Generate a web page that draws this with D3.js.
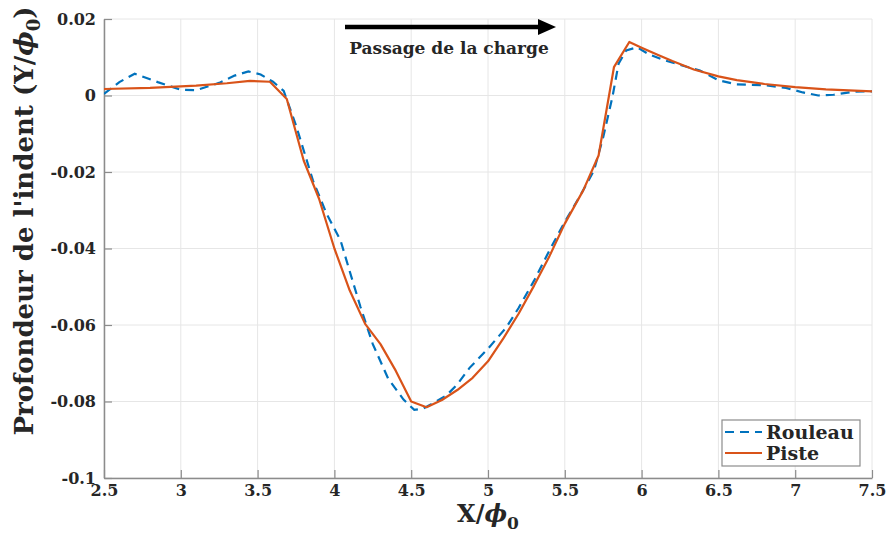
<!DOCTYPE html>
<html>
<head>
<meta charset="utf-8">
<script src="https://cdn.jsdelivr.net/npm/d3@7"></script>
<style>
  html, body { margin: 0; padding: 0; background: #fff; }
  svg { display: block; }
  text { font-family: "DejaVu Serif", serif; font-weight: bold; fill: #262626; }
</style>
</head>
<body>
<svg id="chart" width="887" height="533"></svg>
<script>
// ---- Data ----
const rouleauX = [2.5, 2.6, 2.7, 2.85, 3.0, 3.1, 3.25, 3.35, 3.44, 3.52, 3.6, 3.67, 3.75, 3.86, 3.95, 4.04, 4.1, 4.17, 4.25, 4.35, 4.45, 4.52, 4.58, 4.65, 4.73, 4.8, 4.88, 5.0, 5.12, 5.2, 5.3, 5.4, 5.5, 5.6, 5.69, 5.75, 5.81, 5.85, 5.9, 5.97, 6.05, 6.15, 6.25, 6.38, 6.5, 6.62, 6.8, 6.94, 7.05, 7.15, 7.25, 7.38, 7.5];
const rouleauY = [0.0004, 0.0035, 0.0057, 0.0035, 0.0015, 0.0014, 0.0033, 0.0052, 0.0063, 0.0055, 0.0036, 0.0012, -0.0078, -0.0222, -0.0310, -0.0379, -0.0460, -0.0553, -0.0650, -0.0740, -0.0795, -0.0822, -0.0818, -0.0803, -0.0784, -0.0755, -0.0712, -0.0662, -0.0606, -0.0555, -0.0484, -0.0405, -0.0330, -0.0262, -0.0196, -0.0109, -0.0004, 0.0083, 0.0118, 0.0126, 0.0107, 0.0092, 0.0080, 0.0065, 0.0040, 0.0029, 0.0027, 0.0020, 0.0008, 0.0000, 0.0002, 0.0010, 0.0011];

const pisteX = [2.5, 2.8, 3.1, 3.3, 3.45, 3.58, 3.69, 3.8, 3.9, 4.0, 4.1, 4.2, 4.3, 4.4, 4.5, 4.6, 4.7, 4.8, 4.9, 5.0, 5.1, 5.2, 5.3, 5.4, 5.5, 5.62, 5.72, 5.82, 5.92, 6.0, 6.1, 6.2, 6.34, 6.5, 6.62, 6.8, 7.0, 7.2, 7.5];
const pisteY = [0.0017, 0.0020, 0.0026, 0.0032, 0.0038, 0.0036, -0.0009, -0.0170, -0.0270, -0.0400, -0.0510, -0.0597, -0.0650, -0.0720, -0.0800, -0.0815, -0.0796, -0.0770, -0.0738, -0.0695, -0.0635, -0.0570, -0.0497, -0.0420, -0.0335, -0.0248, -0.0157, 0.0074, 0.0140, 0.0125, 0.0107, 0.0090, 0.0068, 0.0050, 0.0040, 0.0030, 0.0022, 0.0016, 0.0011];

const xTicks = [2.5, 3, 3.5, 4, 4.5, 5, 5.5, 6, 6.5, 7, 7.5];
const xTickLabels = ["2.5", "3", "3.5", "4", "4.5", "5", "5.5", "6", "6.5", "7", "7.5"];
const yTicks = [0.02, 0, -0.02, -0.04, -0.06, -0.08, -0.1];
const yTickLabels = ["0.02", "0", "-0.02", "-0.04", "-0.06", "-0.08", "-0.1"];

const seriesNames = ["Rouleau", "Piste"];
const seriesColors = ["#0072BD", "#D95319"];
const annotationText = "Passage de la charge";

// ---- Layout ----
const svg = d3.select("#chart");
const L = 104, R = 872, T = 19, B = 478;
const x = d3.scaleLinear().domain([2.5, 7.5]).range([L, R]);
const y = d3.scaleLinear().domain([-0.1, 0.02]).range([B, T]);

// grid
const grid = svg.append("g");
grid.selectAll("line.gx").data(xTicks).enter().append("line")
  .attr("x1", d => x(d)).attr("x2", d => x(d)).attr("y1", T).attr("y2", B)
  .attr("stroke", "#e6e6e6").attr("stroke-width", 1);
grid.selectAll("line.gy").data(yTicks).enter().append("line")
  .attr("x1", L).attr("x2", R).attr("y1", d => y(d)).attr("y2", d => y(d))
  .attr("stroke", "#e6e6e6").attr("stroke-width", 1);

// axes
const xAxis = d3.axisBottom(x).tickValues(xTicks).tickFormat((d, i) => xTickLabels[i])
  .tickSizeInner(-8).tickSizeOuter(0).tickPadding(7);
const gx = svg.append("g").attr("transform", `translate(0,${B})`).call(xAxis);
gx.select(".domain").attr("stroke", "#8c8c8c").attr("stroke-width", 1.5);
gx.selectAll(".tick line").attr("stroke", "#8c8c8c").attr("stroke-width", 1.2);
gx.selectAll(".tick text").attr("font-size", 16).attr("font-family", "DejaVu Serif").attr("font-weight", "bold").attr("fill", "#262626");

const yAxis = d3.axisLeft(y).tickValues(yTicks).tickFormat((d, i) => yTickLabels[i])
  .tickSizeInner(-8).tickSizeOuter(0).tickPadding(8);
const gy = svg.append("g").attr("transform", `translate(${L},0)`).call(yAxis);
gy.select(".domain").attr("stroke", "#8c8c8c").attr("stroke-width", 1.5);
gy.selectAll(".tick line").attr("stroke", "#8c8c8c").attr("stroke-width", 1.2);
gy.selectAll(".tick text").attr("font-size", 16).attr("font-family", "DejaVu Serif").attr("font-weight", "bold").attr("fill", "#262626");

// clip
svg.append("clipPath").attr("id", "clip").append("rect")
  .attr("x", L).attr("y", T - 2).attr("width", R - L).attr("height", B - T + 2);

const line = d3.line().x(d => x(d[0])).y(d => y(d[1]));
const rouleau = rouleauX.map((v, i) => [v, rouleauY[i]]);
const piste = pisteX.map((v, i) => [v, pisteY[i]]);

const plot = svg.append("g").attr("clip-path", "url(#clip)");
plot.append("path").datum(rouleau).attr("d", line)
  .attr("fill", "none").attr("stroke", seriesColors[0]).attr("stroke-width", 2.2)
  .attr("stroke-dasharray", "9,6");
plot.append("path").datum(piste).attr("d", line)
  .attr("fill", "none").attr("stroke", seriesColors[1]).attr("stroke-width", 2.2)
  .attr("stroke-linejoin", "round");

// annotation arrow
const arrY = 27;
svg.append("line").attr("x1", 345).attr("x2", 542).attr("y1", arrY).attr("y2", arrY)
  .attr("stroke", "#000").attr("stroke-width", 4.5);
svg.append("path").attr("d", `M538,${arrY - 8} L556,${arrY} L538,${arrY + 8} Z`).attr("fill", "#000");
svg.append("text").attr("x", 449).attr("y", 54).attr("text-anchor", "middle")
  .attr("font-size", 17).text(annotationText);

// axis labels
const ylab = svg.append("text")
  .attr("transform", "translate(33,221) rotate(-90)")
  .attr("text-anchor", "middle").attr("font-size", 26);
ylab.append("tspan").text("Profondeur de l'indent (Y/");
ylab.append("tspan").attr("font-style", "italic").text("ϕ");
ylab.append("tspan").attr("font-size", 18).attr("dy", 7).text("0");
ylab.append("tspan").attr("dy", -7).text(")");

const xlab = svg.append("text").attr("x", 488).attr("y", 522)
  .attr("text-anchor", "middle").attr("font-size", 24);
xlab.append("tspan").text("X/");
xlab.append("tspan").attr("font-style", "italic").text("ϕ");
xlab.append("tspan").attr("font-size", 17).attr("dy", 7).text("0");

// legend
const lg = svg.append("g");
lg.append("rect").attr("x", 722).attr("y", 420).attr("width", 138).attr("height", 46)
  .attr("fill", "#fff").attr("stroke", "#8c8c8c").attr("stroke-width", 1.2);
lg.append("line").attr("x1", 725).attr("x2", 762).attr("y1", 432).attr("y2", 432)
  .attr("stroke", seriesColors[0]).attr("stroke-width", 2.2).attr("stroke-dasharray", "9,6");
lg.append("line").attr("x1", 725).attr("x2", 762).attr("y1", 453).attr("y2", 453)
  .attr("stroke", seriesColors[1]).attr("stroke-width", 2.2);
lg.append("text").attr("x", 766).attr("y", 439).attr("font-size", 19).text(seriesNames[0]);
lg.append("text").attr("x", 766).attr("y", 460).attr("font-size", 19).text(seriesNames[1]);
</script>
</body>
</html>
